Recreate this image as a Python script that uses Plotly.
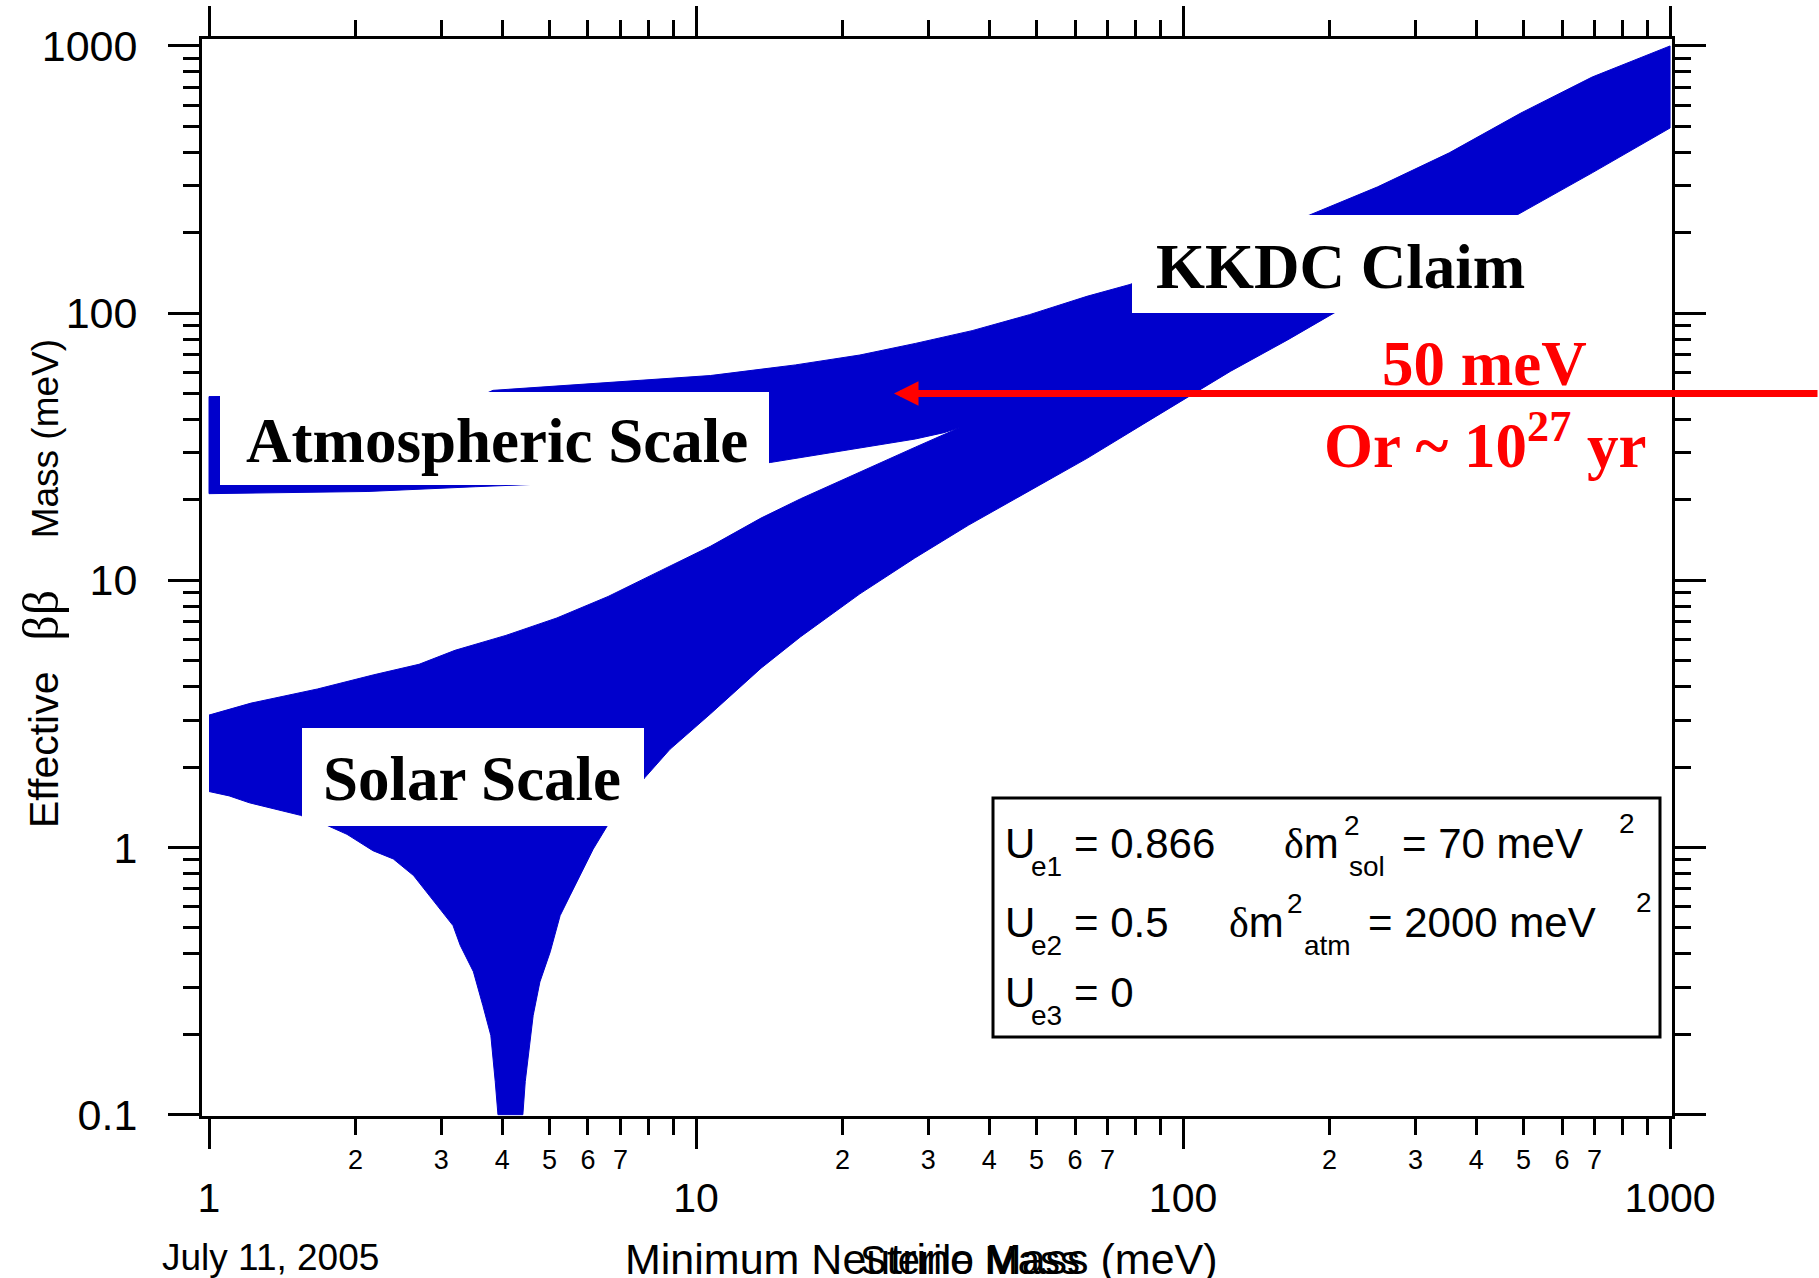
import math
import plotly.graph_objects as go

# ---------------- data (meV) ----------------
# lower edge of the normal-hierarchy band, including the cancellation dip
nh_lo_x = [1.0, 1.10, 1.21, 1.38, 1.54, 1.73, 1.92, 2.17, 2.39, 2.63,
           2.84, 3.17, 3.28, 3.49, 3.65, 3.79, 3.87, 3.92, 4.41, 4.46,
           4.63, 4.78, 5.02, 5.26, 5.51, 5.78, 6.15, 6.6, 7.86, 8.84,
           10.7, 13.6, 16.4, 21.7, 28.1, 36.3, 48.4, 63.5, 83, 103,
           125, 164, 204, 485, 692, 1000]
nh_lo_y = [1.62, 1.56, 1.47, 1.39, 1.32, 1.22, 1.12, 0.973, 0.906, 0.785,
           0.66, 0.51, 0.43, 0.343, 0.256, 0.198, 0.133, 0.10, 0.10, 0.133,
           0.235, 0.314, 0.407, 0.556, 0.66, 0.785, 0.986, 1.22, 1.83, 2.33,
           3.16, 4.69, 6.15, 8.9, 12.1, 16.1, 21.6, 28.6, 38.5, 48.9,
           60.5, 79.4, 100.0, 233, 335, 493]

# upper edge of the inverted band, continuing as the degenerate band
up_x = [1.0, 3.7, 3.83, 5.43, 7.1, 10.7, 16.0, 21.7, 28.2, 36.9, 48.4,
        63.5, 77.8, 182, 251, 352, 494, 692, 1000]
up_y = [48.7, 50.0, 51.4, 53.6, 55.5, 58.4, 64.0, 69.7, 77.0, 86.0, 98.7,
        115.6, 128, 233, 297, 398, 561, 765, 1000]

# lower edge of the inverted band up to where the two bands merge
ih_lo_x = [1.0, 2.12, 3.52, 4.76, 14.2, 16.4, 19.6, 21.4, 24.9, 28.2, 32.3, 34.8]
ih_lo_y = [21.1, 21.5, 22.4, 22.9, 27.6, 28.8, 30.2, 31.0, 32.5, 33.8, 35.7, 37.3]

# upper edge of the normal band up to the merge point
nh_up_x = [1.0, 1.22, 1.67, 2.18, 2.70, 3.20, 4.07, 5.18, 6.6, 8.4,
           10.7, 13.6, 16.4, 21.4, 28.2, 34.8]
nh_up_y = [3.13, 3.47, 3.92, 4.43, 4.85, 5.47, 6.22, 7.23, 8.7, 10.8,
           13.4, 17.1, 20.2, 25.2, 31.5, 37.3]

# axis ticks
x_major = [1, 10, 100, 1000]
x_major_text = ["1", "10", "100", "1000"]
x_minor_lab = [2, 3, 4, 5, 6, 7, 20, 30, 40, 50, 60, 70, 200, 300, 400, 500, 600, 700]
x_minor_text = ["2", "3", "4", "5", "6", "7"] * 3
x_minor_all = [m * d for d in (1, 10, 100) for m in range(2, 10)]
y_major = [0.1, 1, 10, 100, 1000]
y_major_text = ["0.1", "1", "10", "100", "1000"]
y_minor_all = [m * d for d in (0.1, 1, 10, 100) for m in range(2, 10)]

sensitivity_mev = 50          # arrow level
arrow_tip_x = 25.5            # mass where the arrow head sits

# ---------------- styling ----------------
W, H = 1819, 1278
L, R, T, B = 202, 1672, 39, 1116
SANS = "Liberation Sans, Arial, sans-serif"
SERIF = "Liberation Serif, Times New Roman, serif"
BLUE = "#0000CC"
RED = "#FF0000"
NB = "\u00a0"


def px(X):
    return (X - L) / (R - L)


def py(Y):
    return (B - Y) / (B - T)


def label(X, base, text, size, color="black", family=SANS, asc=0.35):
    return dict(xref="paper", yref="paper", x=px(X), y=py(base - asc * size),
                xanchor="left", yanchor="middle", text=text, showarrow=False,
                font=dict(size=size, color=color, family=family))


def white_box(x0, y0, x1, y1, line=None):
    return dict(type="rect", xref="paper", yref="paper", layer="above",
                x0=px(x0), x1=px(x1), y0=py(y1), y1=py(y0),
                fillcolor="white", line=line or dict(width=0))


# outline of the allowed region: normal lower edge out, degenerate/inverted
# upper edge back, then around the gap between the two bands
poly_x = nh_lo_x + up_x[::-1] + ih_lo_x + nh_up_x[::-1]
poly_y = nh_lo_y + up_y[::-1] + ih_lo_y + nh_up_y[::-1]

fig = go.Figure()
fig.add_trace(go.Scatter(x=poly_x, y=poly_y, mode="lines", fill="toself",
                         fillcolor=BLUE, line=dict(color=BLUE, width=0),
                         hoverinfo="skip", showlegend=False))
fig.add_trace(go.Scatter(x=poly_x, y=poly_y, mode="lines", xaxis="x2",
                         line=dict(color=BLUE, width=1),
                         hoverinfo="skip", showlegend=False))

axis_common = dict(type="log", showline=True, linewidth=3, linecolor="black",
                   mirror="ticks", ticks="outside", tickwidth=3, tickcolor="black",
                   showgrid=False, zeroline=False)

xr = [-0.0144, 3.004]
yr = [-1.005, 3.026]

fig.update_layout(
    width=W, height=H,
    margin=dict(l=L, r=W - R, t=T, b=H - B, autoexpand=False),
    paper_bgcolor="white", plot_bgcolor="white",
    showlegend=False,
    xaxis=dict(**axis_common, range=xr, tickmode="array", tickvals=x_major,
               ticktext=x_major_text, ticklen=30, ticklabelstandoff=14,
               tickfont=dict(size=41, family=SANS, color="black"),
               minor=dict(tickmode="array", tickvals=x_minor_all, ticks="outside",
                          ticklen=16, tickwidth=3, tickcolor="black")),
    xaxis2=dict(type="log", overlaying="x", anchor="y", side="bottom", range=xr,
                showline=False, showgrid=False, zeroline=False, ticks="",
                tickmode="array", tickvals=x_minor_lab, ticktext=x_minor_text,
                ticklabelstandoff=25,
                tickfont=dict(size=27, family=SANS, color="black")),
    yaxis=dict(**axis_common, range=yr, tickmode="array", tickvals=y_major,
               ticktext=y_major_text, ticklen=31, ticklabelstandoff=22,
               tickfont=dict(size=43, family=SANS, color="black"),
               minor=dict(tickmode="array", tickvals=y_minor_all, ticks="outside",
                          ticklen=16, tickwidth=3, tickcolor="black")),
)

shapes = [
    white_box(220, 392, 769, 485),
    white_box(302, 728, 644, 826),
    white_box(1132, 215, 1535, 313),
    dict(type="rect", xref="paper", yref="paper", layer="above",
         x0=px(993), x1=px(1660), y0=py(1037), y1=py(798),
         fillcolor="rgba(0,0,0,0)", line=dict(color="black", width=3)),
]

bold = lambda s: "<b>" + s + "</b>"
delta = "<span style='font-family:Liberation Serif'>δ</span>m"
y_title = ("<span style='font-size:41px'>Effective</span>" + NB * 3
           + "<span style='font-family:Liberation Serif;font-size:50px'>ββ</span>"
           + NB * 5 + "Mass (meV)")
ann = [
    label(244, 462, bold("Atmospheric Scale"), 63, family=SERIF, asc=0.34),
    label(321, 800, bold("Solar Scale"), 63, family=SERIF, asc=0.34),
    label(1154, 288, bold("KKDC Claim"), 63, family=SERIF, asc=0.34),
    label(1380, 385, bold(f"{sensitivity_mev} meV"), 63, color=RED, family=SERIF, asc=0.34),
    label(1322, 460, bold("Or ~ 10<sup>27</sup> yr"), 63, color=RED, family=SERIF, asc=0.30),
    # parameter box contents
    label(1003, 858, "U", 42), label(1029, 876, "e1", 28), label(1072, 858, "= 0.866", 42),
    label(1282, 858, delta, 42),
    label(1342, 835, "2", 28), label(1347, 876, "sol", 28),
    label(1400, 858, "= 70 meV", 42), label(1617, 833, "2", 28),
    label(1003, 937, "U", 42), label(1029, 955, "e2", 28), label(1072, 937, "= 0.5", 42),
    label(1227, 937, delta, 42),
    label(1285, 913, "2", 28), label(1302, 955, "atm", 28),
    label(1366, 937, "= 2000 meV", 42), label(1634, 912, "2", 28),
    label(1003, 1007, "U", 42), label(1029, 1025, "e3", 28), label(1072, 1007, "= 0", 42),
    # axis titles and date stamp
    label(623, 1274, "Minimum Neutrino Mass (meV)", 43),
    label(858, 1274, "Sterile Mass", 40),
    label(160, 1270, "July 11, 2005", 37),
    dict(xref="paper", yref="paper", x=px(41), y=py(584), xanchor="center",
         yanchor="middle", textangle=-90, showarrow=False, text=y_title,
         font=dict(size=37, family=SANS, color="black")),
    # sensitivity arrow at 50 meV
    dict(xref="x", yref="y", x=math.log10(arrow_tip_x), y=math.log10(sensitivity_mev),
         ax=W - 893, ay=0, axref="pixel", ayref="pixel", text="", showarrow=True,
         arrowhead=2, arrowsize=0.7, arrowwidth=7, arrowcolor=RED, standoff=0),
]

fig.update_layout(shapes=shapes, annotations=ann)
fig.write_html("out.html")
